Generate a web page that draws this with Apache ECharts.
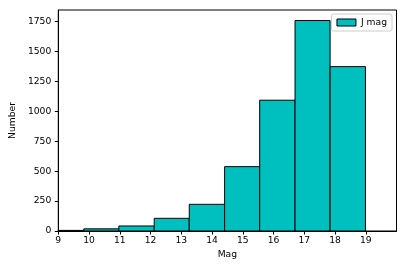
<!DOCTYPE html>
<html><head><meta charset="utf-8">
<script src="https://cdn.jsdelivr.net/npm/echarts@6/dist/echarts.min.js"></script>
<style>html,body{margin:0;padding:0;background:#fff}#c{width:407px;height:271px}</style>
</head><body><div id="c"></div>
<script>
const binEdges = [8.68, 9.83, 10.97, 12.12, 13.26, 14.41, 15.55, 16.70, 17.84, 18.99];
const counts = [5, 18, 42, 106, 223, 538, 1093, 1759, 1374];
const xTicks = [9, 10, 11, 12, 13, 14, 15, 16, 17, 18, 19];
const yTicks = [0, 250, 500, 750, 1000, 1250, 1500, 1750];
const seriesName = 'J mag';

const data = counts.map((c, i) => [binEdges[i], binEdges[i + 1], c]);
const font = 'DejaVu Sans';
const fs = 9.2;

function renderItem(params, api) {
  const p0 = api.coord([api.value(0), api.value(2)]);
  const p1 = api.coord([api.value(1), 0]);
  const cs = params.coordSys;
  const rect = echarts.graphic.clipRectByRect(
    { x: p0[0], y: p0[1], width: p1[0] - p0[0], height: p1[1] - p0[1] },
    { x: cs.x, y: cs.y, width: cs.width, height: cs.height }
  );
  if (!rect) return;
  return { type: 'rect', shape: rect, style: { fill: '#00bfbf', stroke: '#000', lineWidth: 1 } };
}

const chart = echarts.init(document.getElementById('c'), null, { renderer: 'canvas' });
chart.setOption({
  animation: false,
  textStyle: { fontFamily: font },
  grid: { left: 54, right: 10.5, top: 10, bottom: 40, show: true, borderColor: '#000', borderWidth: 1, backgroundColor: 'transparent' },
  legend: {
    right: 15, top: 14, padding: [4, 5], borderColor: '#ccc', borderWidth: 1, borderRadius: 2,
    itemWidth: 19, itemHeight: 7,
    textStyle: { fontFamily: font, fontSize: fs, color: '#000' },
    data: [{ name: seriesName, icon: 'rect', itemStyle: { color: '#00bfbf', borderColor: '#000', borderWidth: 1 } }]
  },
  xAxis: {
    type: 'value', min: 9, max: 20,
    name: 'Mag', nameLocation: 'middle', nameGap: 19,
    nameTextStyle: { fontFamily: font, fontSize: fs, color: '#000' },
    axisLine: { show: true, lineStyle: { color: '#000', width: 1 } },
    axisTick: { show: true, length: 3.5, lineStyle: { color: '#000' }, customValues: xTicks },
    axisLabel: { fontFamily: font, fontSize: fs, color: '#000', margin: 5.5, customValues: xTicks, formatter: v => String(v) },
    splitLine: { show: false }
  },
  yAxis: {
    type: 'value', min: 0, max: 1847,
    name: 'Number', nameLocation: 'middle', nameGap: 34,
    nameTextStyle: { fontFamily: font, fontSize: fs, color: '#000' },
    axisLine: { show: true, lineStyle: { color: '#000', width: 1 } },
    axisTick: { show: true, length: 3.5, lineStyle: { color: '#000' }, customValues: yTicks },
    axisLabel: { fontFamily: font, fontSize: fs, color: '#000', margin: 7, customValues: yTicks, formatter: v => String(v) },
    splitLine: { show: false }
  },
  series: [{
    name: seriesName, type: 'custom', renderItem: renderItem,
    itemStyle: { color: '#00bfbf', borderColor: '#000' },
    encode: { x: [0, 1], y: 2 },
    data: data
  }]
});
</script></body></html>
